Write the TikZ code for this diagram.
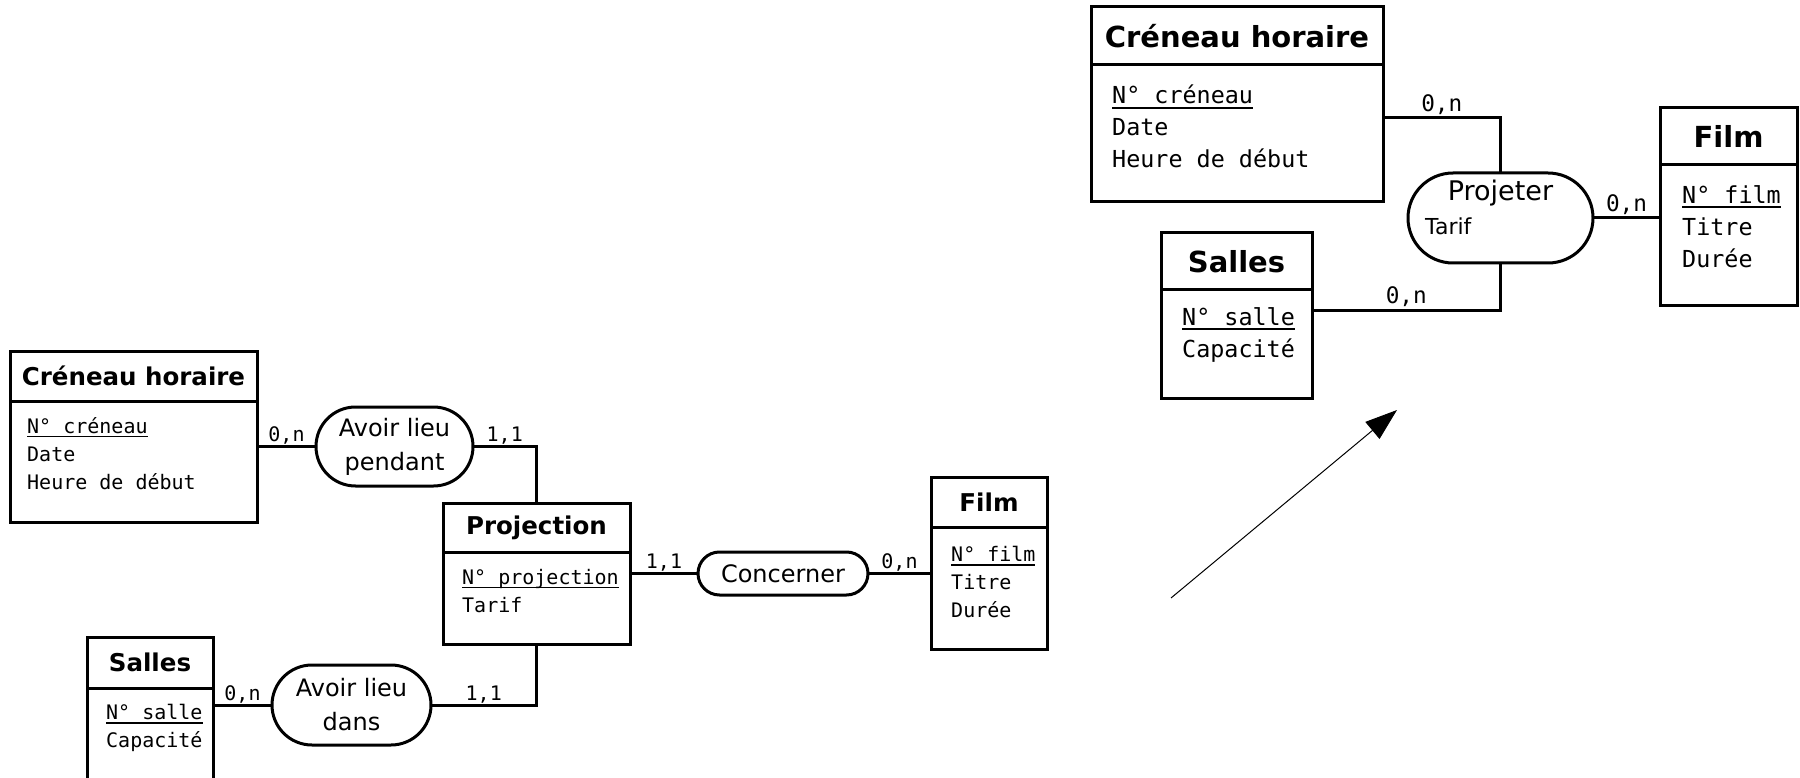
\documentclass[tikz,border=0pt]{standalone}
\usepackage{fontspec}
\setmainfont{DejaVu Sans}
\setmonofont{DejaVu Sans Mono}
\usetikzlibrary{shapes.misc,arrows.meta}

\newcommand{\cle}[1]{\sbox0{#1}\rlap{\rule[-0.2em]{\wd0}{0.08em}}\usebox0}

\tikzset{
  box/.style={draw, line width=3pt, inner sep=0pt, outer sep=0pt},
  headL/.style={box, font=\bfseries\fontsize{24.5}{29}\selectfont},
  headR/.style={box, font=\bfseries\fontsize{29}{34}\selectfont},
  attrL/.style={inner sep=0pt, anchor=north west, align=left, font=\ttfamily\fontsize{20}{28}\selectfont},
  attrR/.style={inner sep=0pt, anchor=north west, align=left, font=\ttfamily\fontsize{23.4}{32}\selectfont},
  assoc/.style={draw, line width=3pt, rounded rectangle, inner sep=0pt, outer sep=0pt, align=center, font=\fontsize{24}{34}\selectfont},
  link/.style={line width=3pt},
  cardL/.style={inner sep=0pt, anchor=base, yshift=5pt, font=\ttfamily\fontsize{20}{24}\selectfont},
  cardR/.style={inner sep=0pt, anchor=base, yshift=6pt, font=\ttfamily\fontsize{22.7}{27}\selectfont},
}

\begin{document}
\begin{tikzpicture}[x=1pt,y=-1pt]
	\useasboundingbox (0,0) rectangle (1800,778);
	\node[headL, minimum width=247, minimum height=50, anchor=north west] (creL) at (10,351) {Créneau horaire};
	\node[box, minimum width=247, minimum height=121, anchor=north] (creLb) at (creL.south) {};
	\node[attrL] (creLattr) at ([shift={(17,16)}]creLb.north west) {\cle{N° créneau}\\Date\\Heure de début};
	\node[headL, minimum width=187, minimum height=49, anchor=north west] (proj) at (443,503) {Projection};
	\node[box, minimum width=187, minimum height=92, anchor=north] (projb) at (proj.south) {};
	\node[attrL] (projattr) at ([shift={(19,17)}]projb.north west) {\cle{N° projection}\\Tarif};
	\node[headL, minimum width=116, minimum height=50, anchor=north west] (filmL) at (931,477) {Film};
	\node[box, minimum width=116, minimum height=122, anchor=north] (filmLb) at (filmL.south) {};
	\node[attrL] (filmLattr) at ([shift={(20,19)}]filmLb.north west) {\cle{N° film}\\Titre\\Durée};
	\node[headL, minimum width=126, minimum height=51, anchor=north west] (sallesL) at (87,637) {Salles};
	\node[box, minimum width=126, minimum height=140, anchor=north] (sallesLb) at (sallesL.south) {};
	\node[attrL] (sallesLattr) at ([shift={(19,16)}]sallesLb.north west) {\cle{N° salle}\\Capacité};
	\node[assoc, minimum width=157, minimum height=79] (relPendant) at (394.5,446.5) {Avoir lieu\\pendant};
	\node[assoc, minimum width=170, minimum height=43] (relConcerner) at (783,573.5) {Concerner};
	\node[assoc, minimum width=159, minimum height=80] (relDans) at (351.5,705) {Avoir lieu\\dans};
	\draw[link] (relPendant.west -| creLb.east) -- node[cardL] {0,n} (relPendant.west);
	\draw[link] (relPendant.east) -- node[cardL] {1,1} (relPendant.east -| proj.north) -- (proj.north);
	\draw[link] (relConcerner.west -| projb.east) -- node[cardL] {1,1} (relConcerner.west);
	\draw[link] (relConcerner.east) -- node[cardL] {0,n} (relConcerner.east -| filmLb.west);
	\draw[link] (relDans.west -| sallesLb.east) -- node[cardL] {0,n} (relDans.west);
	\draw[link] (relDans.east) -- node[cardL] {1,1} (relDans.east -| projb.south) -- (projb.south);

	\node[headR, minimum width=292, minimum height=58, anchor=north west] (creR) at (1091,7) {Créneau horaire};
	\node[box, minimum width=292, minimum height=137, anchor=north] (creRb) at (creR.south) {};
	\node[attrR] (creRattr) at ([shift={(21,20)}]creRb.north west) {\cle{N° créneau}\\Date\\Heure de début};
	\node[headR, minimum width=137, minimum height=57, anchor=north west] (filmR) at (1660,108) {Film};
	\node[box, minimum width=137, minimum height=140, anchor=north] (filmRb) at (filmR.south) {};
	\node[attrR] (filmRattr) at ([shift={(22,20)}]filmRb.north west) {\cle{N° film}\\Titre\\Durée};
	\node[headR, minimum width=151, minimum height=57, anchor=north west] (sallesR) at (1161,233) {Salles};
	\node[box, minimum width=151, minimum height=108, anchor=north] (sallesRb) at (sallesR.south) {};
	\node[attrR] (sallesRattr) at ([shift={(21,17)}]sallesRb.north west) {\cle{N° salle}\\Capacité};
	\node[assoc, minimum width=185, minimum height=90] (relProj) at (1500.5,218) {};
	\node[inner sep=0pt, anchor=base, font=\fontsize{27}{32}\selectfont] (projName) at ([yshift=17pt]relProj.center) {Projeter};
	\node[inner sep=0pt, anchor=base west, font=\fontsize{22}{26}\selectfont] (projTarif) at ([shift={(17,17)}]relProj.west) {Tarif};
	\coordinate (bendTop) at (relProj.north |- 0,118);
	\coordinate (bendLow) at (relProj.south |- 0,310);
	\draw[link] (bendTop -| creRb.east) -- node[cardR] {0,n} (bendTop) -- (relProj.north);
	\draw[link] (relProj.east) -- node[cardR] {0,n} (relProj.east -| filmRb.west);
	\draw[link] (relProj.south) -- (bendLow) -- node[cardR] {0,n} (bendLow -| sallesRb.east);

	\coordinate (arrTail) at (1171,598);
	\coordinate (arrTip) at (1397,410);
	\draw[line width=1pt, -{Triangle[length=32pt, width=22pt]}] (arrTail) -- (arrTip);
\end{tikzpicture}
\end{document}
